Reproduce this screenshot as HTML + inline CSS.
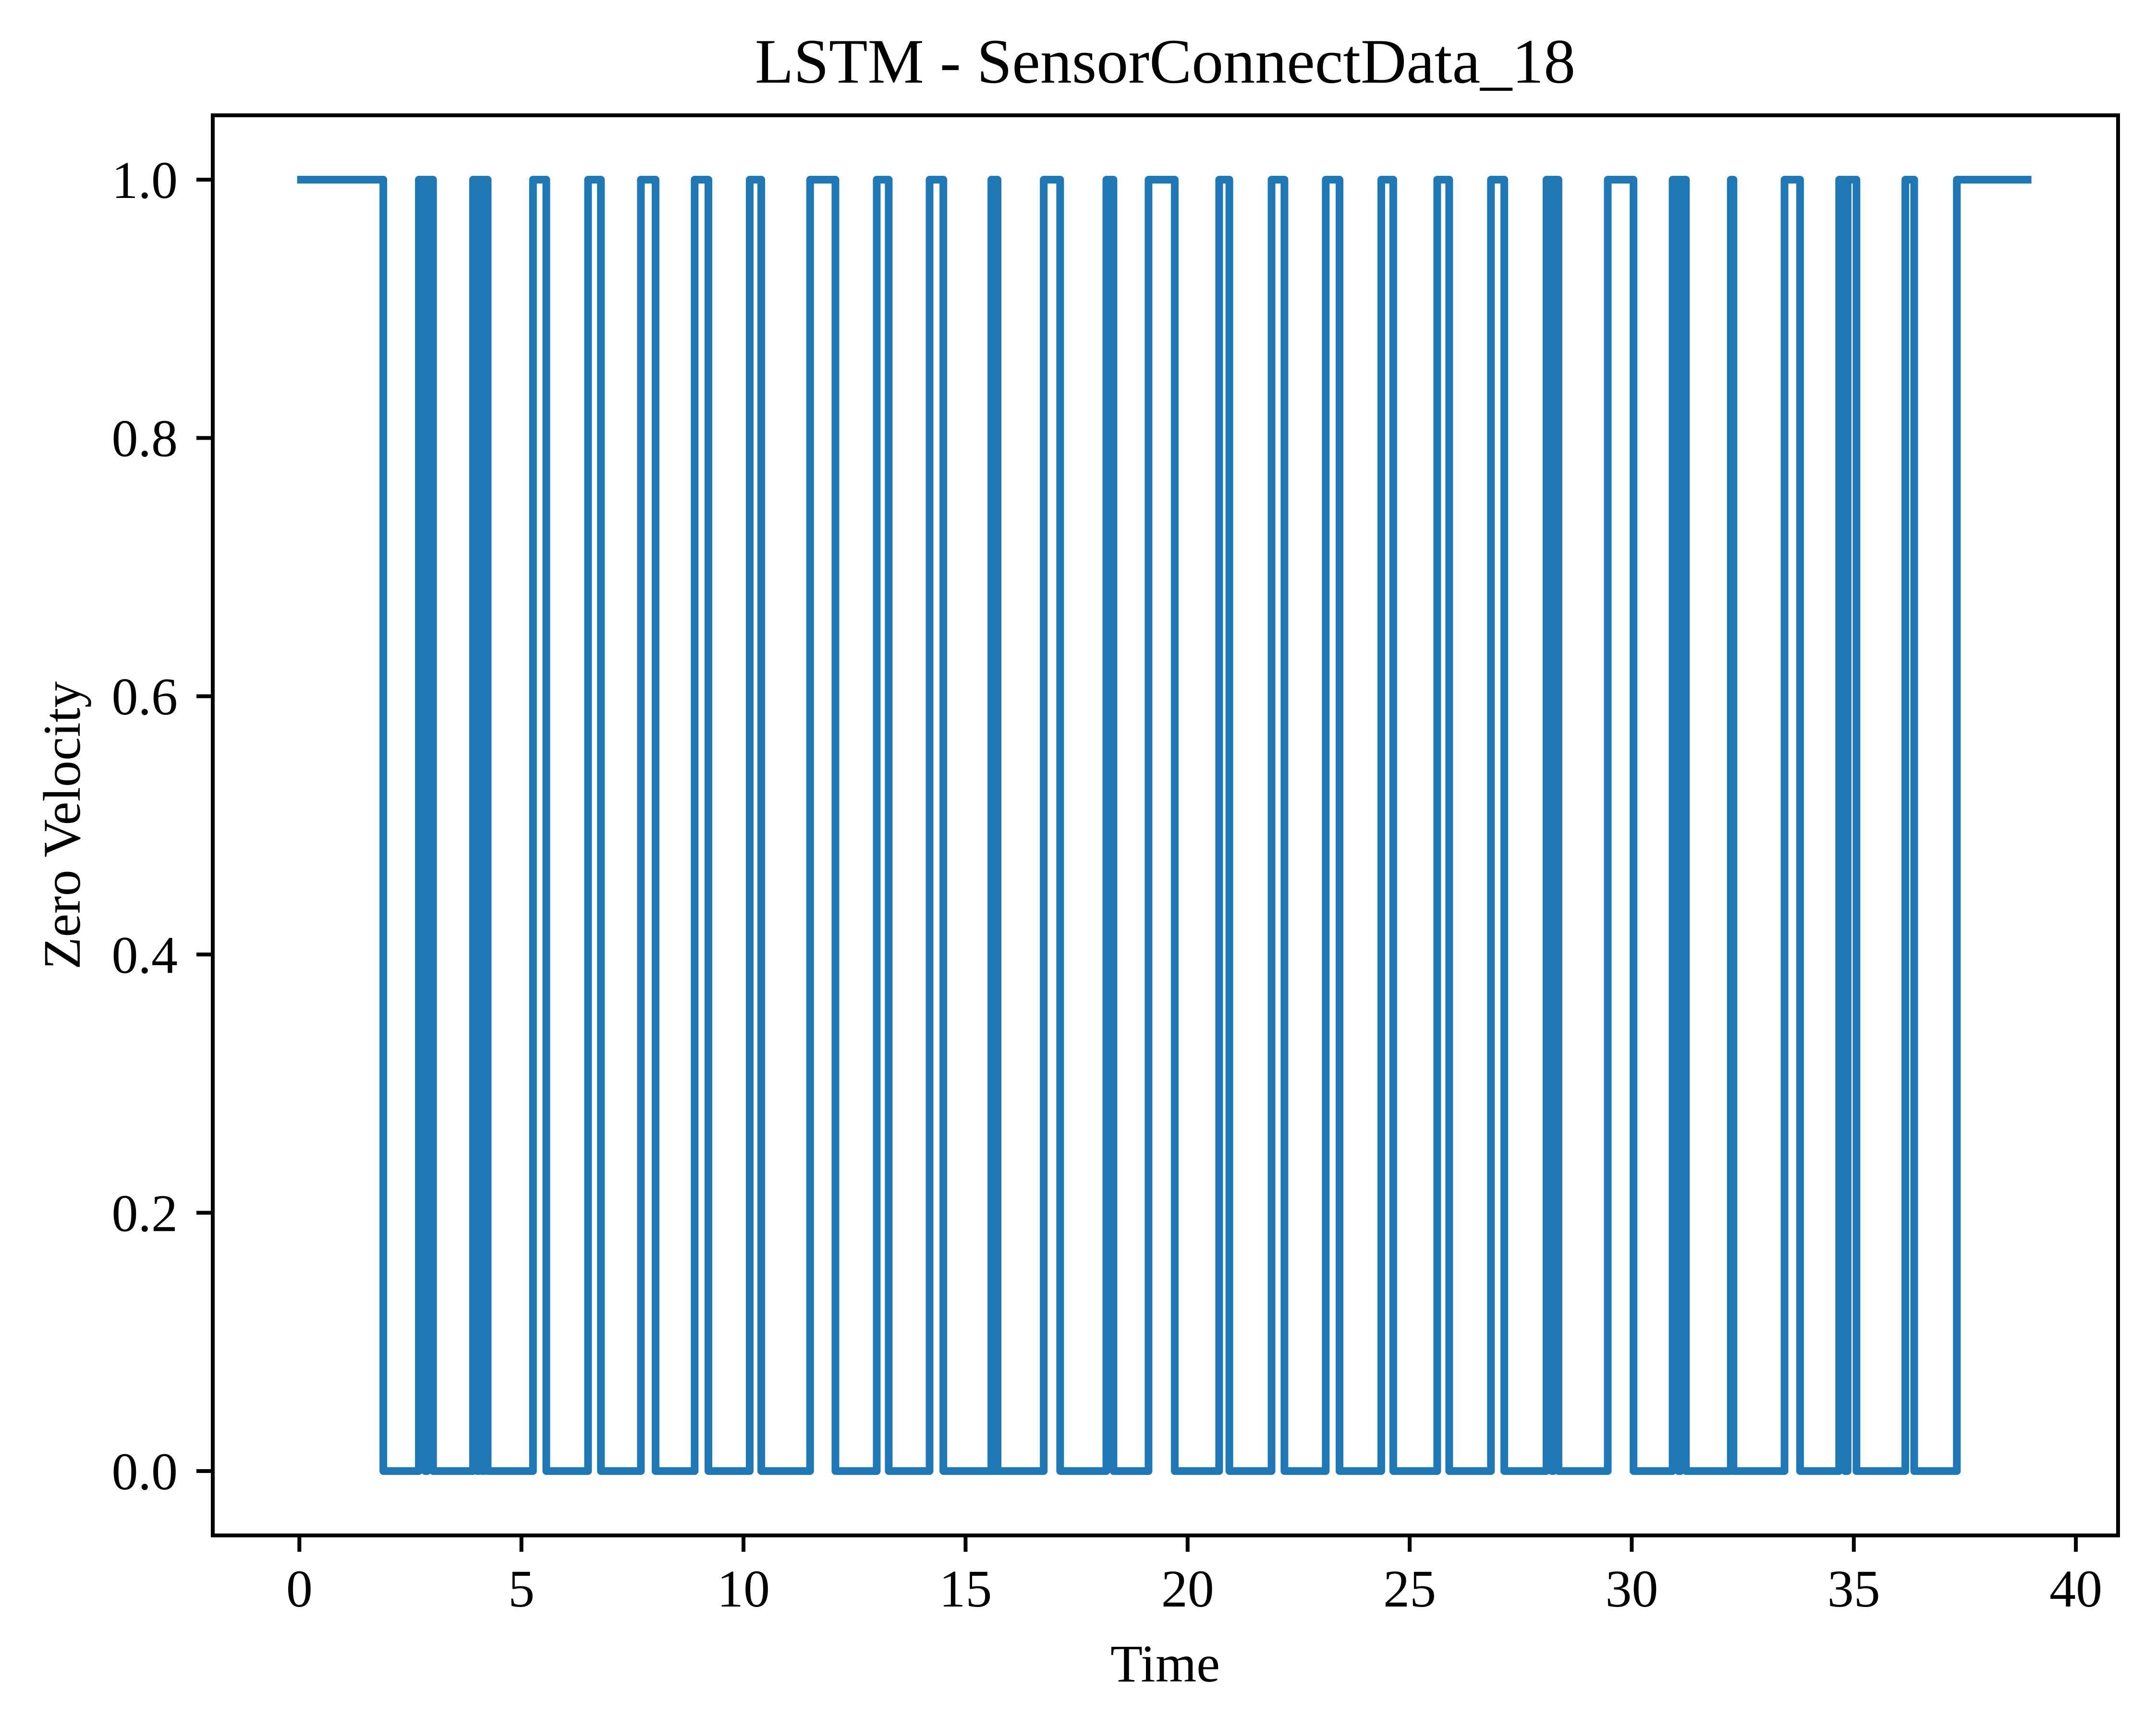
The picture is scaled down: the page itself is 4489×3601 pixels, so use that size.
<!DOCTYPE html>
<html><head><meta charset="utf-8"><style>
html,body{margin:0;padding:0;background:#fff;}
svg{display:block;font-family:"Liberation Serif",serif;}
</style></head><body>
<svg id="chart" width="4489" height="3601" viewBox="0 0 4489 3601" xmlns="http://www.w3.org/2000/svg">
<rect x="0" y="0" width="4489" height="3601" fill="#fff"/>
<text x="2426" y="172" font-size="132" text-anchor="middle">LSTM - SensorConnectData_18</text>
<g id="plot"></g>
<g id="xticks"></g>
<g id="yticks"></g>
<rect x="443" y="240" width="3967" height="2956" fill="none" stroke="#000" stroke-width="8"/>
<text x="2426" y="3500" font-size="110" text-anchor="middle">Time</text>
<text x="0" y="0" font-size="110" text-anchor="middle" transform="translate(166,1718) rotate(-90)">Zero Velocity</text>
</svg>
<script>
const tStart = -0.05;
const tEnd = 39;
const pulseStarts = [1.89, 2.83, 3.01, 4.0, 4.12, 4.24, 5.56, 6.79, 8.02, 9.21, 10.40, 12.07, 13.27, 14.50, 15.63, 15.72, 17.13, 18.33, 19.71, 20.94, 22.18, 23.42, 24.63, 25.89, 27.13, 28.2, 28.35, 30.04, 31.05, 31.22, 32.29, 33.79, 34.8, 35.06, 36.36];
const pulseEnds   = [2.69, 2.88, 3.91, 4.05, 4.17, 5.26, 6.50, 7.69, 8.90, 10.14, 11.50, 13.00, 14.19, 15.58, 15.67, 16.76, 18.17, 19.12, 20.71, 21.89, 23.11, 24.36, 25.62, 26.83, 28.08, 28.24, 29.46, 30.92, 31.1, 32.23, 33.44, 34.67, 34.86, 36.16, 37.32];
const xTickValues = [0, 5, 10, 15, 20, 25, 30, 35, 40];
const yTickValues = [0.0, 0.2, 0.4, 0.6, 0.8, 1.0];
const yTickLabels = ["0.0", "0.2", "0.4", "0.6", "0.8", "1.0"];

const NS = "http://www.w3.org/2000/svg";
function xs(t){ return 443 + (t + 1.95) * (3967 / 42.9); }
function ys(v){ return 3062 - 2688 * v; }

const events = [];
pulseStarts.forEach(t => events.push([t, 0]));
pulseEnds.forEach(t => events.push([t, 1]));
events.sort((a,b)=>a[0]-b[0]);
let d = "M" + xs(tStart) + "," + ys(1);
let cur = 1;
events.forEach(([t, v]) => {
  d += " L" + xs(t) + "," + ys(cur) + " L" + xs(t) + "," + ys(v);
  cur = v;
});
d += " L" + xs(tEnd) + "," + ys(cur);
const path = document.createElementNS(NS, "path");
path.setAttribute("d", d);
path.setAttribute("fill", "none");
path.setAttribute("stroke", "#1f77b4");
path.setAttribute("stroke-width", "16");
path.setAttribute("stroke-linejoin", "round");


document.getElementById("plot").appendChild(path);

const xg = document.getElementById("xticks");
xTickValues.forEach(v => {
  const l = document.createElementNS(NS, "line");
  l.setAttribute("x1", xs(v)); l.setAttribute("x2", xs(v));
  l.setAttribute("y1", 3196); l.setAttribute("y2", 3230);
  l.setAttribute("stroke", "#000"); l.setAttribute("stroke-width", "8");
  
  
  xg.appendChild(l);
  const tx = document.createElementNS(NS, "text");
  tx.setAttribute("x", xs(v)); tx.setAttribute("y", 3344);
  tx.setAttribute("font-size", "110"); tx.setAttribute("text-anchor", "middle");
  tx.textContent = String(v);
  
  
  xg.appendChild(tx);
});
const yg = document.getElementById("yticks");
yTickValues.forEach((v, i) => {
  const l = document.createElementNS(NS, "line");
  l.setAttribute("x1", 409); l.setAttribute("x2", 443);
  l.setAttribute("y1", ys(v)); l.setAttribute("y2", ys(v));
  l.setAttribute("stroke", "#000"); l.setAttribute("stroke-width", "8");
  
  
  yg.appendChild(l);
  const tx = document.createElementNS(NS, "text");
  tx.setAttribute("x", 370); tx.setAttribute("y", ys(v) + 38);
  tx.setAttribute("font-size", "110"); tx.setAttribute("text-anchor", "end");
  tx.textContent = yTickLabels[i];
  
  
  yg.appendChild(tx);
});
</script>
</body></html>
